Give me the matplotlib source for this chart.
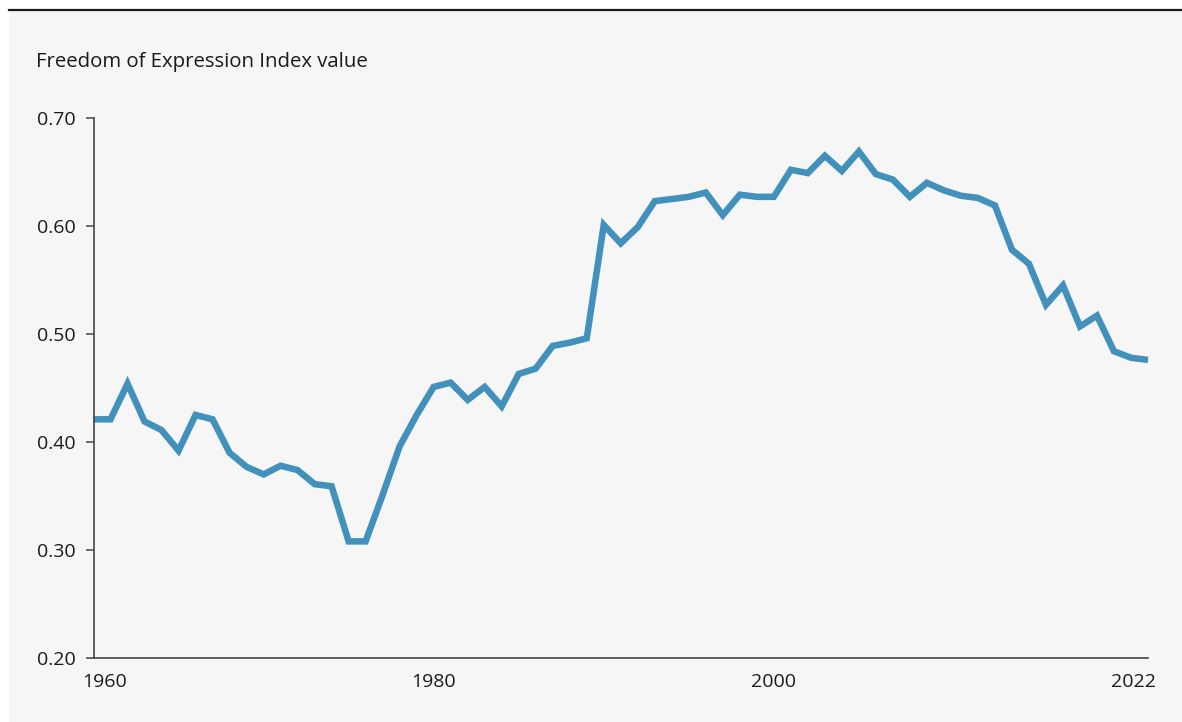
import matplotlib.pyplot as plt
import matplotlib.transforms as mtransforms
from matplotlib.patches import Rectangle
from matplotlib.lines import Line2D

plt.rcParams['font.family'] = ['Open Sans', 'DejaVu Sans']

# Data
years = list(range(1960, 2023))
index_value = [
    0.421, 0.421, 0.454, 0.419, 0.411, 0.392, 0.425, 0.421, 0.390, 0.377,
    0.370, 0.378, 0.374, 0.361, 0.359, 0.308, 0.308, 0.351, 0.396, 0.425,
    0.451, 0.455, 0.439, 0.451, 0.433, 0.463, 0.468, 0.489, 0.492, 0.496,
    0.601, 0.584, 0.599, 0.623, 0.625, 0.627, 0.631, 0.610, 0.629, 0.627,
    0.627, 0.652, 0.649, 0.665, 0.651, 0.669, 0.648, 0.643, 0.627, 0.640,
    0.633, 0.628, 0.626, 0.619, 0.578, 0.565, 0.527, 0.545, 0.507, 0.517,
    0.484, 0.478, 0.476,
]
y_ticks = [0.2, 0.3, 0.4, 0.5, 0.6, 0.7]
x_ticks = [1960, 1980, 2000, 2022]

W, H = 1182, 722
fig = plt.figure(figsize=(W / 100, H / 100), dpi=100)
fig.patch.set_facecolor('white')

# gray panel + black rule on top
fig.patches.append(Rectangle((9 / W, 0), 1 - 9 / W, 1 - 11 / H, transform=fig.transFigure,
                             facecolor='#f6f6f6', edgecolor='none', zorder=-10))
fig.lines.append(Line2D([9 / W, 1], [1 - 10 / H, 1 - 10 / H], transform=fig.transFigure,
                        color='#1a1a1a', linewidth=1.6, zorder=-5))

ax = fig.add_axes([93.5 / W, 1 - 658 / H, (1148 - 93.5) / W, (658 - 118) / H])
ax.set_zorder(2)
ax.set_facecolor('none')
ax.plot(years, index_value, color='#4291bc', linewidth=4.7, solid_joinstyle='miter',
        solid_capstyle='butt', clip_on=False)

ax.set_xlim(1960, 2022)
ax.set_ylim(0.2, 0.7)
ax.set_yticks(y_ticks)
ax.set_yticklabels([f'{v:.2f}' for v in y_ticks])
ax.set_xticks(x_ticks)
ax.set_xticklabels([str(x) for x in x_ticks])

for side in ['top', 'right']:
    ax.spines[side].set_visible(False)
for side in ['left', 'bottom']:
    ax.spines[side].set_color('#444444')
    ax.spines[side].set_linewidth(1.2)

ax.tick_params(axis='y', length=6, width=1.1, color='#444444', pad=7,
               labelsize=14, labelcolor='#1a1a1a')
ax.tick_params(axis='x', length=0, pad=11, labelsize=14, labelcolor='#1a1a1a')

# nudge the end labels inward like the reference
labels = ax.get_xticklabels()
labels[0].set_transform(labels[0].get_transform() +
                        mtransforms.ScaledTranslation(11 / 100, 0, fig.dpi_scale_trans))
labels[-1].set_transform(labels[-1].get_transform() +
                         mtransforms.ScaledTranslation(-15 / 100, 0, fig.dpi_scale_trans))

fig.text(36 / W, 1 - 62 / H, 'Freedom of Expression Index value', ha='left', va='center',
         fontsize=14.7, color='#1a1a1a')

plt.savefig('out.png', dpi=100, facecolor=fig.get_facecolor())
